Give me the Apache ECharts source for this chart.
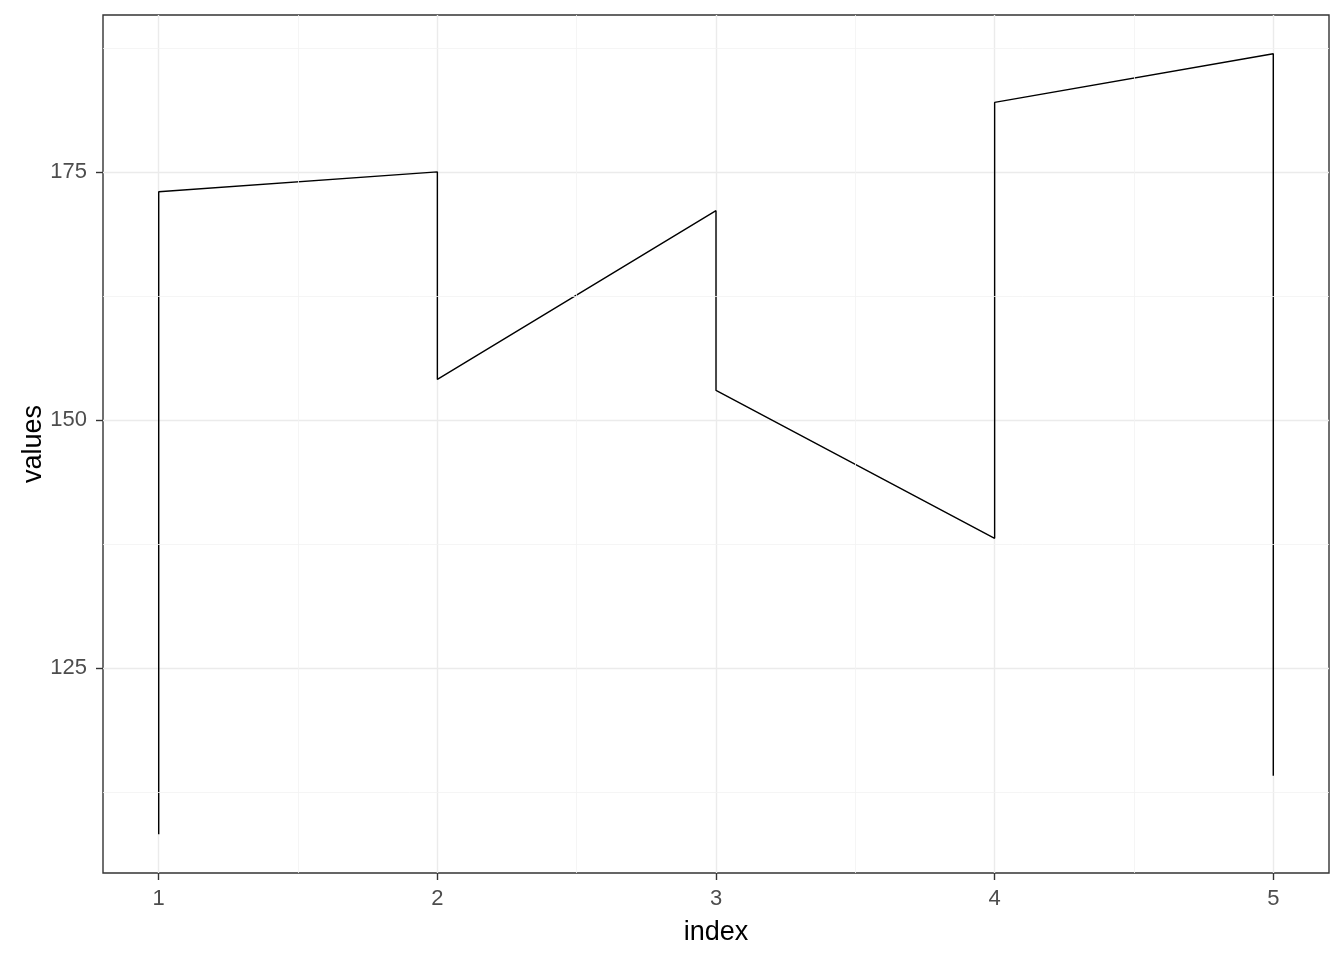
<!DOCTYPE html>
<html>
<head>
<meta charset="utf-8">
<script src="https://cdn.jsdelivr.net/npm/echarts@6/dist/echarts.min.js"></script>
<style>
html,body{margin:0;padding:0;background:#fff;}
#chart{width:1344px;height:960px;}
</style>
</head>
<body>
<div id="chart"></div>
<script>
var indexValues = [1, 1, 2, 2, 3, 3, 4, 4, 5, 5];
var valueValues = [108.3, 173.0, 175.0, 154.1, 171.1, 153.0, 138.1, 182.0, 186.9, 114.2];
var xTicks = [1, 2, 3, 4, 5];
var yTicks = [125, 150, 175];
var xMinor = [1.5, 2.5, 3.5, 4.5];
var yMinor = [112.5, 137.5, 162.5, 187.5];

var pts = indexValues.map(function (x, i) { return [x, valueValues[i]]; });
var FONT = '"Liberation Sans", Arial, sans-serif';

var minorLines = xMinor.map(function (v) { return { xAxis: v }; })
  .concat(yMinor.map(function (v) { return { yAxis: v }; }));

var chart = echarts.init(document.getElementById('chart'));
chart.setOption({
  animation: false,
  backgroundColor: '#ffffff',
  grid: {
    left: 103, right: 15, top: 15, bottom: 87,
    show: true, borderColor: '#333333', borderWidth: 1.4,
    backgroundColor: 'transparent'
  },
  xAxis: {
    type: 'value', min: 0.8, max: 5.2,
    name: 'index', nameLocation: 'middle', nameGap: 46, nameMoveOverlap: false,
    nameTextStyle: { fontFamily: FONT, fontSize: 27, color: '#000' },
    axisLine: { show: false },
    axisTick: { show: true, customValues: xTicks, length: 7, lineStyle: { color: '#333333', width: 1.4 } },
    axisLabel: { customValues: xTicks, fontFamily: FONT, fontSize: 22, color: '#4D4D4D', margin: 15 },
    splitLine: { show: true, lineStyle: { color: '#EBEBEB', width: 1.4 } }
  },
  yAxis: {
    type: 'value', min: 104.4, max: 190.8,
    name: 'values', nameLocation: 'middle', nameGap: 56, nameMoveOverlap: false,
    nameTextStyle: { fontFamily: FONT, fontSize: 27, color: '#000' },
    axisLine: { show: false },
    axisTick: { show: true, customValues: yTicks, length: 7, lineStyle: { color: '#333333', width: 1.4 } },
    axisLabel: { customValues: yTicks, fontFamily: FONT, fontSize: 22, color: '#4D4D4D', margin: 16 },
    splitLine: { show: true, lineStyle: { color: '#EBEBEB', width: 1.4 } }
  },
  series: [
    {
      type: 'line', data: [], z: 1, silent: true,
      markLine: {
        silent: true, symbol: 'none', animation: false,
        label: { show: false },
        lineStyle: { color: '#F2F2F2', width: 0.8, type: 'solid' },
        emphasis: { disabled: true },
        data: minorLines
      }
    },
    {
      type: 'line', data: pts, z: 3,
      showSymbol: false, symbol: 'none',
      lineStyle: { color: '#000000', width: 1.4 },
      itemStyle: { color: '#000000' }
    }
  ]
});
</script>
</body>
</html>
